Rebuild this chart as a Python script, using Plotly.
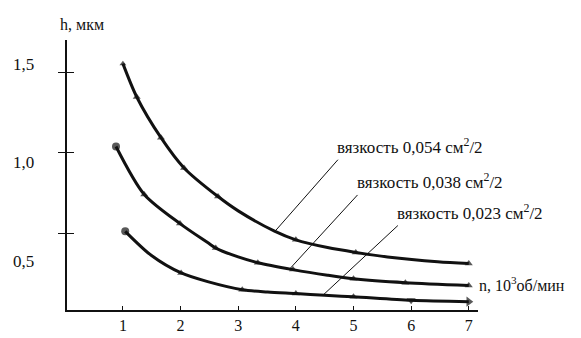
import plotly.graph_objects as go

# ---- data ----
x_top = [1.0, 1.24, 1.66, 2.06, 2.65, 3.0, 3.63, 4.0, 4.55, 5.04, 5.59, 6.46, 7.0]
y_top = [1.553, 1.346, 1.093, 0.905, 0.727, 0.638, 0.512, 0.458, 0.41, 0.38, 0.352, 0.322, 0.311]

x_mid = [0.88, 1.37, 1.99, 2.47, 2.61, 3.0, 3.34, 3.95, 4.55, 5.0, 5.9, 7.0]
y_mid = [1.038, 0.74, 0.559, 0.441, 0.407, 0.352, 0.316, 0.273, 0.238, 0.216, 0.192, 0.175]

x_low = [1.04, 1.49, 2.01, 2.47, 3.07, 3.51, 4.0, 4.5, 5.0, 6.0, 7.0]
y_low = [0.511, 0.362, 0.252, 0.198, 0.148, 0.134, 0.124, 0.113, 0.104, 0.082, 0.074]

series_names = ["вязкость 0,054 см<sup>2</sup>/2",
                "вязкость 0,038 см<sup>2</sup>/2",
                "вязкость 0,023 см<sup>2</sup>/2"]

x_ticks = [1, 2, 3, 4, 5, 6, 7]
x_tick_labels = ["1", "2", "3", "4", "5", "6", "7"]
y_ticks = [0.5, 1.0, 1.5]
y_tick_labels = ["0,5", "1,0", "1,5"]

# leader lines: (x on curve, y on curve, x at label, y at label)
leaders = [(3.64, 0.512, 4.73, 0.956),
           (3.89, 0.276, 5.07, 0.737),
           (4.47, 0.114, 5.77, 0.547)]

# ---- styling ----
FONT = "Liberation Serif"
INK = "#111111"

# which read points carry a drawn marker (1) and which only guide the line (0)
marker_mask = [
    [1, 1, 1, 1, 1, 0, 0, 1, 0, 1, 0, 0, 1],
    [1, 1, 1, 0, 1, 0, 1, 1, 0, 1, 1, 1],
    [1, 0, 1, 0, 1, 0, 1, 0, 1, 1, 1],
]
first_size = [6, 8, 8]
first_symbol = ["triangle-up", "circle", "circle"]

fig = go.Figure()

curves = [(x_top, y_top), (x_mid, y_mid), (x_low, y_low)]
for i, ((xs, ys), name) in enumerate(zip(curves, series_names)):
    mask = marker_mask[i]
    sizes = [(first_size[i] if k == 0 else 7) * m for k, m in enumerate(mask)]
    symbols = [first_symbol[i] if k == 0 else "triangle-up" for k in range(len(mask))]
    if i == 2:
        symbols[-2] = "triangle-down"
        symbols[-1] = "triangle-right"
        sizes[-2] = 8
        sizes[-1] = 9
    fig.add_trace(go.Scatter(
        x=xs, y=ys, mode="lines+markers", name=name,
        line=dict(color=INK, width=3, shape="spline", smoothing=0.8),
        marker=dict(color=INK, size=sizes, symbol=symbols, line=dict(width=0)),
        showlegend=False, hoverinfo="skip"))

# empty trace to keep the inside-tick overlay axis alive
fig.add_trace(go.Scatter(x=[], y=[], yaxis="y2", showlegend=False))

# leader lines
for (x0, y0, x1, y1) in leaders:
    fig.add_shape(type="line", x0=x0, y0=y0, x1=x1, y1=y1,
                  xref="x", yref="y", line=dict(color=INK, width=1))

# series labels at the top of the leaders
for (x0, y0, x1, y1), name in zip(leaders, series_names):
    fig.add_annotation(x=x1, y=y1, xref="x", yref="y", text=name,
                       showarrow=False, xanchor="left", yanchor="bottom",
                       xshift=-3, yshift=1,
                       font=dict(family=FONT, size=17, color=INK))

# y tick labels (offset as in the original scan)
y_label_shift = [-28, -10, 8]
for v, lab, sh in zip(y_ticks, y_tick_labels, y_label_shift):
    fig.add_annotation(x=0, y=v, xref="paper", yref="y", text=lab,
                       showarrow=False, xanchor="right", yanchor="middle",
                       xshift=-31, yshift=sh,
                       font=dict(family=FONT, size=17, color=INK))

# axis titles
fig.add_annotation(x=0, y=1, xref="paper", yref="paper",
                   text="h, мкм", showarrow=False,
                   xanchor="left", yanchor="bottom", xshift=-9, yshift=5,
                   font=dict(family=FONT, size=16, color=INK))
fig.add_annotation(x=1, y=0, xref="paper", yref="paper",
                   text="n, 10<sup>3</sup>об/мин", showarrow=False,
                   xanchor="left", yanchor="bottom", xshift=-1, yshift=14,
                   font=dict(family=FONT, size=16, color=INK))

fig.update_layout(
    width=581, height=338,
    margin=dict(l=59, r=111, t=32, b=22),
    paper_bgcolor="white", plot_bgcolor="white",
    font=dict(family=FONT, color=INK),
    xaxis=dict(range=[0.03, 7.16], showgrid=False, zeroline=False,
               showline=True, linecolor=INK, linewidth=2,
               tickvals=x_ticks, ticktext=x_tick_labels,
               ticks="inside", ticklen=4, tickcolor=INK,
               tickfont=dict(family=FONT, size=16, color=INK)),
    yaxis=dict(range=[0.022, 1.7], showgrid=False, zeroline=False,
               showline=True, linecolor=INK, linewidth=2,
               tickvals=y_ticks, ticks="outside", ticklen=7,
               tickcolor=INK, showticklabels=False),
    yaxis2=dict(range=[0.022, 1.7], overlaying="y", side="left",
                showgrid=False, zeroline=False, showline=False,
                tickvals=y_ticks, ticks="inside", ticklen=7,
                tickcolor=INK, showticklabels=False),
)

fig.write_html("out.html")
